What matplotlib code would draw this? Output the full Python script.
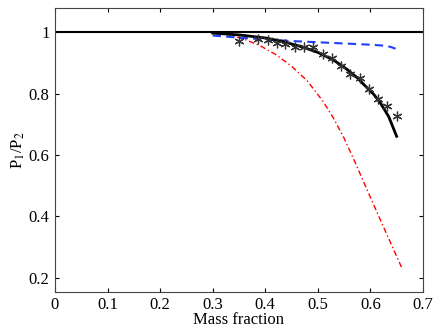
import numpy as np
import matplotlib
matplotlib.use("Agg")
import matplotlib.pyplot as plt

plt.rcParams['font.family'] = ['Liberation Serif', 'DejaVu Serif']
plt.rcParams['mathtext.fontset'] = 'stix'

# reference line P1/P2 = 1
ref_x = [0.0, 0.7]
ref_y = [1.0, 1.0]

# solid black model curve
model_x = [0.30, 0.35, 0.40, 0.43, 0.47, 0.50, 0.53, 0.556, 0.575, 0.594, 0.607, 0.619, 0.635, 0.65]
model_y = [0.998, 0.992, 0.982, 0.972, 0.953, 0.935, 0.91, 0.879, 0.852, 0.819, 0.797, 0.770, 0.725, 0.661]

# blue dashed curve
blue_x = [0.30, 0.35, 0.40, 0.45, 0.50, 0.55, 0.60, 0.625, 0.638, 0.648]
blue_y = [0.990, 0.983, 0.977, 0.972, 0.968, 0.964, 0.960, 0.957, 0.953, 0.947]

# red dash-dot curve
red_x = [0.30, 0.33, 0.36, 0.39, 0.42, 0.45, 0.48, 0.51, 0.53, 0.55, 0.57, 0.60, 0.63, 0.66]
red_y = [1.0, 0.993, 0.978, 0.957, 0.928, 0.890, 0.842, 0.775, 0.720, 0.655, 0.580, 0.462, 0.346, 0.231]

# measured points (asterisks)
meas_x = [0.351, 0.387, 0.406, 0.422, 0.438, 0.457, 0.474, 0.491, 0.510, 0.527,
          0.544, 0.562, 0.580, 0.597, 0.615, 0.632, 0.650]
meas_y = [0.972, 0.980, 0.974, 0.966, 0.961, 0.951, 0.953, 0.953, 0.930, 0.917,
          0.892, 0.866, 0.852, 0.814, 0.784, 0.761, 0.726]

fig = plt.figure(figsize=(4.36, 3.31), dpi=100)
ax = fig.add_axes([0.126, 0.118, 0.844, 0.858])

ax.plot(ref_x, ref_y, color='black', lw=1.5)
ax.plot(red_x, red_y, color='red', lw=1.0, ls='-.', dashes=(4, 2, 1, 2))
ax.plot(blue_x, blue_y, color='#1f3fff', lw=1.5, ls='--', dashes=(4, 2.5))
ax.plot(model_x, model_y, color='black', lw=2)
ax.plot(meas_x, meas_y, ls='none', marker=(6, 2, 0), ms=7, mec='#333333', mew=0.9)

ax.set_xlim(0, 0.7)
ax.set_ylim(0.153, 1.08)
ax.set_xticks(np.arange(0, 0.71, 0.1))
ax.set_xticklabels(['0', '0.1', '0.2', '0.3', '0.4', '0.5', '0.6', '0.7'])
ax.set_yticks([0.2, 0.4, 0.6, 0.8, 1.0])
ax.set_yticklabels(['0.2', '0.4', '0.6', '0.8', '1'])
ax.tick_params(direction='in', top=True, right=True, labelsize=12, length=3, pad=4)
for s in ax.spines.values():
    s.set_linewidth(0.8)
    s.set_color('#444444')

ax.set_xlabel('Mass fraction', fontsize=12, labelpad=-1)
ax.set_ylabel(r'P$_1$/P$_2$', fontsize=12, labelpad=1)

fig.savefig('out.png', dpi=100)
